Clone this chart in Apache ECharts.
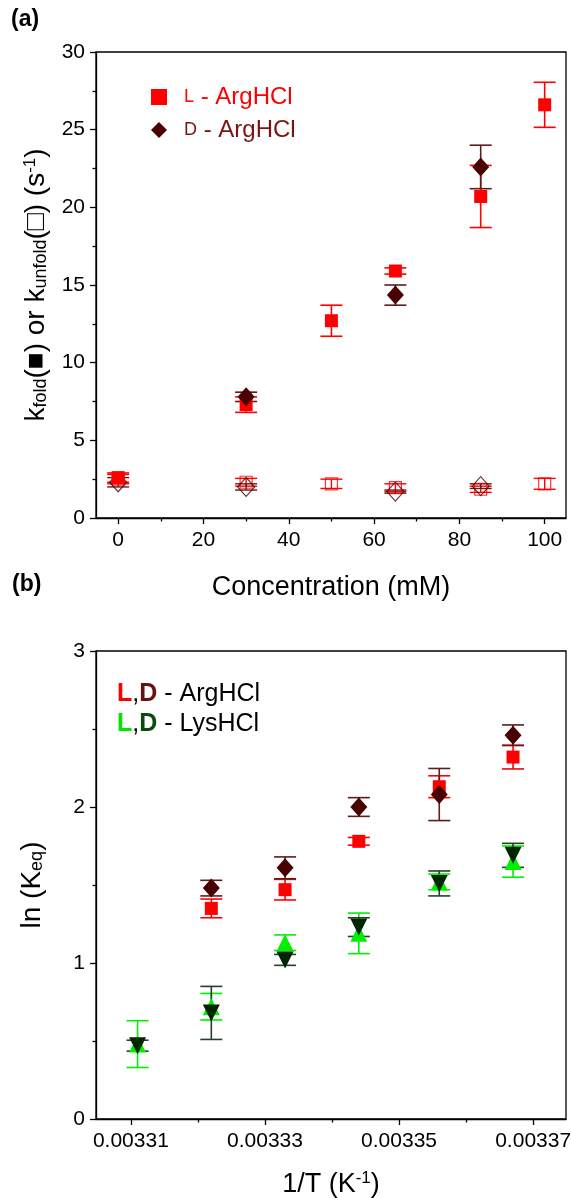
<!DOCTYPE html>
<html>
<head>
<meta charset="utf-8">
<script src="https://cdn.jsdelivr.net/npm/echarts@6/dist/echarts.min.js"></script>
<style>
  html, body { margin: 0; padding: 0; background: #fff; }
  #chart { width: 571px; height: 1198px; }
</style>
</head>
<body>
<div id="chart"></div>
<script>
// (a) folding / unfolding rate constants vs concentration
const concL = [0, 30, 50, 65, 85, 100];
const kFoldL = [2.6, 7.3, 12.7, 15.9, 20.7, 26.6];
const kFoldLErr = [0.3, 0.5, 1.0, 0.2, 2.0, 1.45];
const kUnfoldL = [2.5, 2.3, 2.2, 1.95, 1.85, 2.2];
const kUnfoldLErr = [0.3, 0.25, 0.3, 0.25, 0.2, 0.35];

const concD = [30, 65, 85];
const kFoldD = [7.8, 14.35, 22.6];
const kFoldDErr = [0.3, 0.65, 1.4];
const concDu = [0, 30, 65, 85];
const kUnfoldD = [2.3, 2.0, 1.7, 2.05];
const kUnfoldDErr = [0.3, 0.2, 0.1, 0.15];

const concTicks = [0, 20, 40, 60, 80, 100];
const concMinor = [10, 30, 50, 70, 90];

// (b) ln(Keq) vs 1/T
const invT = [0.003311, 0.003322, 0.003333, 0.003344, 0.003356, 0.003367];
const lnArgL = [null, 1.35, 1.47, 1.78, 2.13, 2.32];
const lnArgLErr = [null, 0.06, 0.066, 0.025, 0.07, 0.076];
const lnArgD = [null, 1.48, 1.61, 2.0, 2.08, 2.46];
const lnArgDErr = [null, 0.05, 0.07, 0.06, 0.167, 0.066];
const lnLysL = [0.48, 0.72, 1.13, 1.19, 1.52, 1.65];
const lnLysLErr = [0.15, 0.085, 0.05, 0.13, 0.05, 0.1];
const lnLysD = [0.47, 0.68, 1.02, 1.23, 1.51, 1.69];
const lnLysDErr = [0.035, 0.17, 0.035, 0.06, 0.08, 0.077];

const invTTicks = [0.00331, 0.00333, 0.00335, 0.00337];
const invTMinor = [0.00332, 0.00334, 0.00336];

const RED = '#ff0000';
const DRED = '#4a0000';
const DRED_BAR = '#5e1c1c';
const GREEN = '#00f000';
const DGREEN = '#002600';
const DGREEN_BAR = '#23402a';
const FONT = '"Liberation Sans", Arial, sans-serif';

const myChart = echarts.init(document.getElementById('chart'));

function pairs(xs, ys, es) {
  const out = [];
  xs.forEach((x, i) => {
    if (ys[i] != null) out.push(es ? [x, ys[i], es[i]] : [x, ys[i]]);
  });
  return out;
}

function errSeries(xs, ys, es, color, xi, yi, lw) {
  return {
    type: 'custom',
    xAxisIndex: xi,
    yAxisIndex: yi,
    z: 1,
    silent: true,
    data: pairs(xs, ys, es),
    encode: { x: 0, y: 1 },
    renderItem(params, api) {
      const x = api.value(0);
      const y = api.value(1);
      const e = api.value(2);
      const hi = api.coord([x, y + e]);
      const lo = api.coord([x, y - e]);
      const half = 11;
      const st = { stroke: color, lineWidth: lw || 1.6 };
      return {
        type: 'group',
        children: [
          { type: 'line', shape: { x1: hi[0], y1: hi[1], x2: lo[0], y2: lo[1] }, style: st },
          { type: 'line', shape: { x1: hi[0] - half, y1: hi[1], x2: hi[0] + half, y2: hi[1] }, style: st },
          { type: 'line', shape: { x1: lo[0] - half, y1: lo[1], x2: lo[0] + half, y2: lo[1] }, style: st }
        ]
      };
    }
  };
}

function scatter(name, xs, ys, symbol, size, fill, border, xi, yi, rotate) {
  return {
    name,
    type: 'scatter',
    xAxisIndex: xi,
    yAxisIndex: yi,
    z: 3,
    symbol,
    symbolSize: size,
    symbolRotate: rotate || 0,
    itemStyle: border
      ? { color: 'rgba(255,255,255,0)', borderColor: border, borderWidth: 1.2 }
      : { color: fill, opacity: 1 },
    data: pairs(xs, ys)
  };
}

const tickLabel = { color: '#000', fontSize: 21, fontFamily: FONT };
const axisLine = { show: true, onZero: false, lineStyle: { color: '#000', width: 1.3 } };

function majorX(gridIndex, min, max, ticks, fmt, nameRich, name, gap) {
  return {
    type: 'value', gridIndex, min, max, position: 'bottom',
    axisLine, splitLine: { show: false },
    axisTick: { show: true, length: 6, customValues: ticks, lineStyle: { color: '#000', width: 1.3 } },
    axisLabel: Object.assign({ margin: 12, customValues: ticks, formatter: fmt }, tickLabel),
    name, nameLocation: 'middle', nameGap: gap,
    nameTextStyle: { color: '#000', fontSize: 27, fontFamily: FONT, rich: nameRich }
  };
}

function minorX(gridIndex, min, max, ticks) {
  return {
    type: 'value', gridIndex, min, max, position: 'bottom',
    axisLine: { show: false, onZero: false }, splitLine: { show: false },
    axisTick: { show: true, length: 3.5, customValues: ticks, lineStyle: { color: '#000', width: 1.3 } },
    axisLabel: { show: false }
  };
}

const subStyle = { fontSize: 18, fontFamily: FONT, color: '#000', lineHeight: 18, padding: [28, 0, 0, 0], verticalAlign: 'bottom' };
const supStyle = { fontSize: 17, fontFamily: FONT, color: '#000', lineHeight: 17, padding: [0, 0, 12, 0] };
const mainStyle = { fontSize: 27, fontFamily: FONT, color: '#000', lineHeight: 27 };
const mainStyleY = { fontSize: 28, fontFamily: FONT, color: '#000', lineHeight: 28 };

const option = {
  animation: false,
  backgroundColor: '#fff',
  textStyle: { fontFamily: FONT },
  grid: [
    { left: 96, top: 52, width: 470, height: 466, show: true, borderColor: '#000', borderWidth: 1.3,
      containLabel: false, outerBoundsMode: 'none' },
    { left: 96, top: 651, width: 470, height: 468, show: true, borderColor: '#000', borderWidth: 1.3,
      containLabel: false, outerBoundsMode: 'none' }
  ],
  xAxis: [
    majorX(0, -5.2, 105, concTicks, v => String(v), { m: mainStyle }, '{m|Concentration (mM)}', 56),
    minorX(0, -5.2, 105, concMinor),
    majorX(1, 0.0033048, 0.0033749, invTTicks, v => v.toFixed(5),
      { m: mainStyle, sup: supStyle }, '{m|1/T (K}{sup|-1}{m|)}', 52),
    minorX(1, 0.0033048, 0.0033749, invTMinor)
  ],
  yAxis: [
    {
      type: 'value', gridIndex: 0, min: 0, max: 30, interval: 5,
      axisLine, splitLine: { show: false },
      axisTick: { show: true, length: 6, lineStyle: { color: '#000', width: 1.3 } },
      minorTick: { show: true, splitNumber: 2, length: 3.5, lineStyle: { color: '#000', width: 1.3 } },
      axisLabel: Object.assign({ margin: 11 }, tickLabel),
      name: '{m|k}{s|fold}{m|(■) or k}{s|unfold}{m|(□) (s}{p|-1}{m|)}',
      nameLocation: 'middle', nameGap: 40,
      nameTextStyle: { rich: { m: mainStyleY, s: subStyle, p: supStyle } }
    },
    {
      type: 'value', gridIndex: 1, min: 0, max: 3, interval: 1,
      axisLine, splitLine: { show: false },
      axisTick: { show: true, length: 6, lineStyle: { color: '#000', width: 1.3 } },
      minorTick: { show: true, splitNumber: 2, length: 3.5, lineStyle: { color: '#000', width: 1.3 } },
      axisLabel: Object.assign({ margin: 11 }, tickLabel),
      name: '{m|ln (K}{s|eq}{m|)}',
      nameLocation: 'middle', nameGap: 50,
      nameTextStyle: { rich: { m: mainStyleY, s: subStyle } }
    }
  ],
  legend: {
    left: 146,
    top: 80,
    orient: 'vertical',
    itemWidth: 16,
    itemHeight: 16,
    itemGap: 9,
    selectedMode: false,
    formatter: name => '{sc|' + name.charAt(0) + '}{t|' + name.slice(1) + '}',
    data: [
      { name: 'L - ArgHCl', textStyle: { rich: {
        sc: { color: RED, fontSize: 18, fontFamily: FONT, padding: [0, 0, 0, 12] },
        t: { color: RED, fontSize: 24, fontFamily: FONT } } } },
      { name: 'D - ArgHCl', textStyle: { rich: {
        sc: { color: '#7a1414', fontSize: 18, fontFamily: FONT, padding: [0, 0, 0, 12] },
        t: { color: '#7a1414', fontSize: 24, fontFamily: FONT } } } }
    ]
  },
  graphic: [
    { type: 'text', left: 11, top: 8, style: { text: '(a)', font: 'bold 23px ' + FONT, fill: '#000' } },
    { type: 'text', left: 12, top: 573, style: { text: '(b)', font: 'bold 23px ' + FONT, fill: '#000' } },
    {
      type: 'text', left: 117, top: 682,
      style: {
        text: '{l|L}{k|,}{d|D}{k| - ArgHCl}',
        rich: {
          l: { fill: RED, font: 'bold 25px ' + FONT },
          d: { fill: '#6a1010', font: 'bold 25px ' + FONT },
          k: { fill: '#000', font: '25px ' + FONT }
        }
      }
    },
    {
      type: 'text', left: 117, top: 712,
      style: {
        text: '{l|L}{k|,}{d|D}{k| - LysHCl}',
        rich: {
          l: { fill: '#00e600', font: 'bold 25px ' + FONT },
          d: { fill: '#0b4a0b', font: 'bold 25px ' + FONT },
          k: { fill: '#000', font: '25px ' + FONT }
        }
      }
    }
  ],
  series: [
    // panel (a): error bars
    errSeries(concL, kUnfoldL, kUnfoldLErr, RED, 0, 0, 1.4),
    errSeries(concDu, kUnfoldD, kUnfoldDErr, DRED_BAR, 0, 0, 1.4),
    errSeries(concL, kFoldL, kFoldLErr, RED, 0, 0),
    errSeries(concD, kFoldD, kFoldDErr, DRED_BAR, 0, 0),
    // panel (a): markers
    scatter('L unfold', concL, kUnfoldL, 'rect', 12, null, RED, 0, 0),
    scatter('D unfold', concDu, kUnfoldD, 'diamond', [17, 19], null, DRED, 0, 0),
    scatter('L - ArgHCl', concL, kFoldL, 'rect', 13, RED, null, 0, 0),
    scatter('D - ArgHCl', concD, kFoldD, 'diamond', [17, 19], DRED, null, 0, 0),
    // panel (b): error bars
    errSeries(invT, lnArgL, lnArgLErr, RED, 2, 1),
    errSeries(invT, lnArgD, lnArgDErr, DRED_BAR, 2, 1),
    errSeries(invT, lnLysL, lnLysLErr, GREEN, 2, 1),
    errSeries(invT, lnLysD, lnLysDErr, DGREEN_BAR, 2, 1),
    // panel (b): markers
    scatter('L-Arg', invT, lnArgL, 'rect', 13, RED, null, 2, 1),
    scatter('D-Arg', invT, lnArgD, 'diamond', [17, 19], DRED, null, 2, 1),
    scatter('L-Lys', invT, lnLysL, 'triangle', 17, GREEN, null, 2, 1),
    scatter('D-Lys', invT, lnLysD, 'triangle', 17, DGREEN, null, 2, 1, 180)
  ]
};

myChart.setOption(option);
</script>
</body>
</html>
